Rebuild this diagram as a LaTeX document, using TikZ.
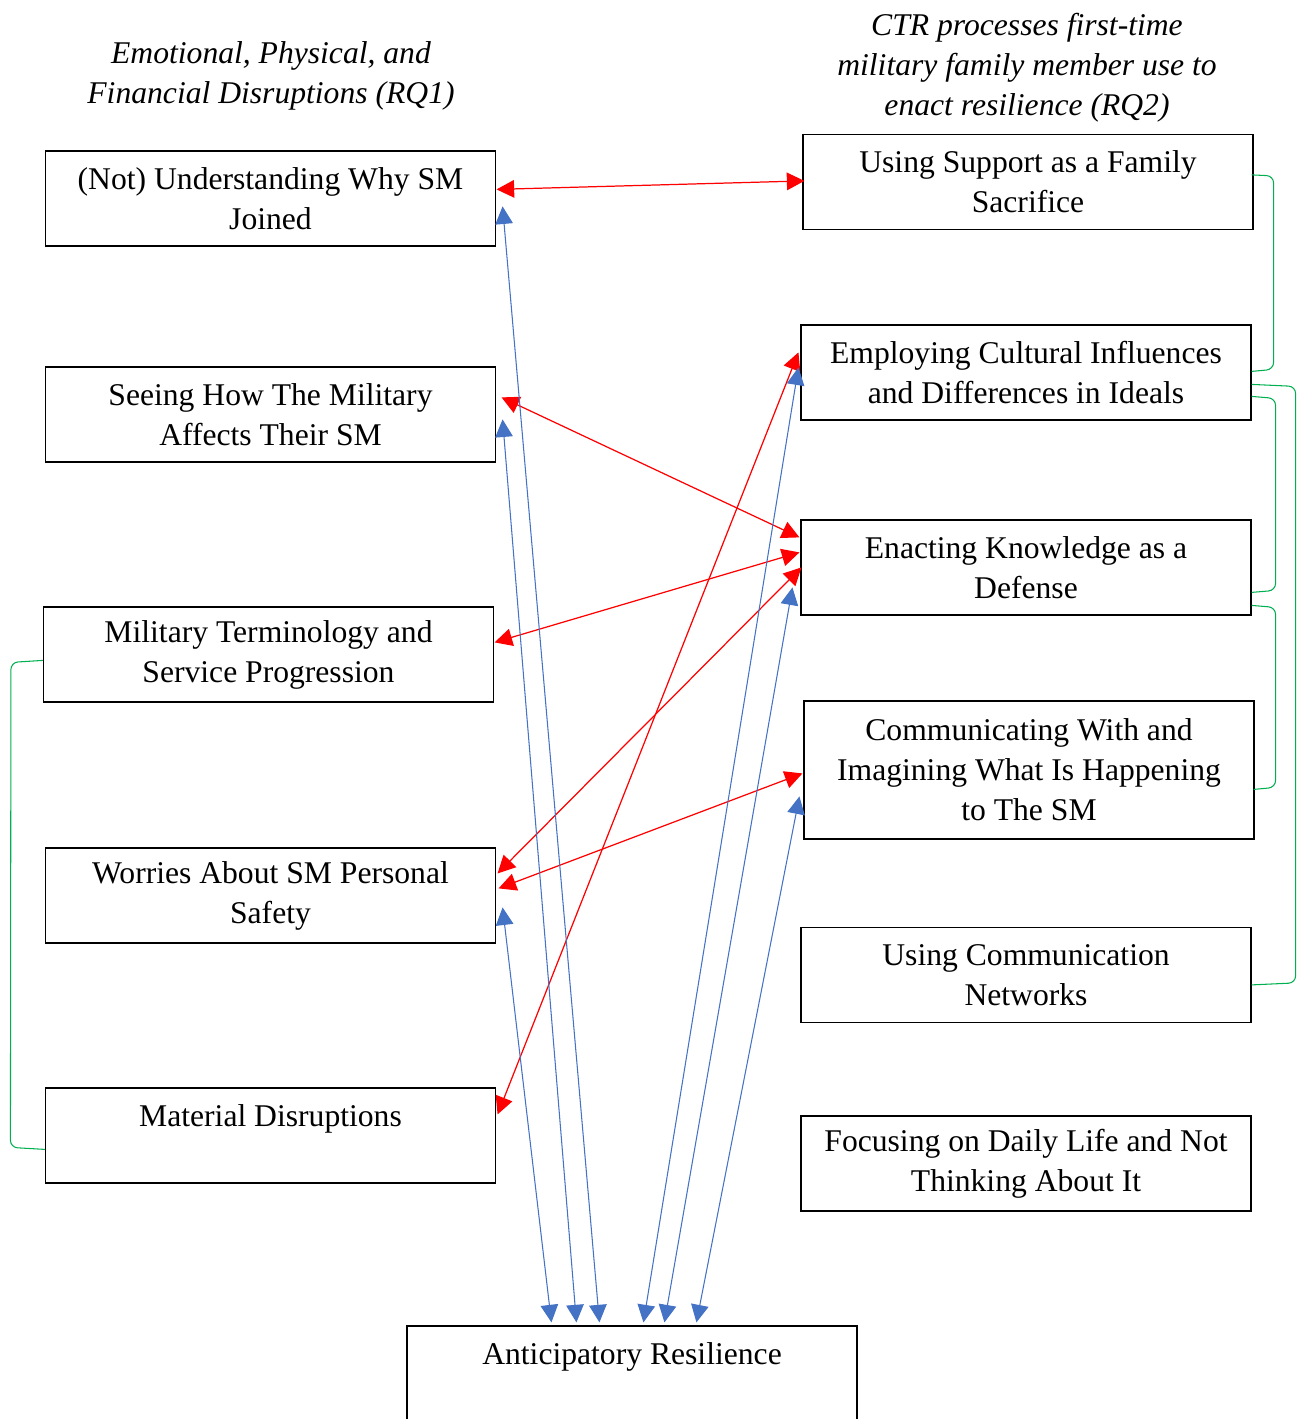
\documentclass[tikz,border=0pt]{standalone}
\usepackage{fontspec}
\setmainfont{Liberation Serif}
\usetikzlibrary{arrows.meta,calc}
\definecolor{linkred}{RGB}{255,0,0}
\definecolor{linkblue}{RGB}{68,114,196}
\definecolor{groupgreen}{RGB}{0,176,80}

\begin{document}
\begin{tikzpicture}[x=0.02cm,y=-0.02cm]
      \tikzstyle{STY1} = [draw, rectangle, line width=0.7pt, minimum width=9cm, minimum height=1.9cm, inner sep=0pt, align=center, font=\fontsize{18}{22.8}\selectfont, execute at begin node={\rule{0pt}{20pt}}]
      \tikzstyle{STY2} = [linkred, line width=0.7pt, {Triangle[length=10pt,width=10pt]}-{Triangle[length=10pt,width=10pt]}]
      \tikzstyle{STY3} = [linkblue, line width=0.6pt, {Triangle[length=10pt,width=10pt]}-{Triangle[length=10pt,width=10pt]}]
      \tikzstyle{STY4} = [groupgreen, line width=0.6pt, rounded corners=4pt]
      \tikzstyle{STY5} = [align=center, font=\itshape\fontsize{18}{22.8}\selectfont]

      \useasboundingbox (0,0) rectangle (1296,1419);

      %%%%% HEADERS

      \node[STY5](h1) at (271,76) {Emotional, Physical, and\\Financial Disruptions (RQ1)};
      \node[STY5](h2) at (1027,68) {CTR processes first-time\\military family member use to\\enact resilience (RQ2)};

      %%%%% VERTEX

      \node[STY1](d1) at (270.5,198.5) {(Not) Understanding Why SM\\Joined};
      \node[STY1](d2) at (270.5,414.5) {Seeing How The Military\\Affects Their SM};
      \node[STY1](d3) at (268.5,654.5) {Military Terminology and\\Service Progression};
      \node[STY1](d4) at (270.5,895.5) {Worries About SM Personal\\Safety};
      \node[STY1](d5) at (270.5,1135.5) {Material Disruptions\\\mbox{}};

      \node[STY1](p1) at (1028,182) {Using Support as a Family\\Sacrifice};
      \node[STY1](p2) at (1026,372.5) {Employing Cultural Influences\\and Differences in Ideals};
      \node[STY1](p3) at (1026,567.5) {Enacting Knowledge as a\\Defense};
      \node[STY1, minimum height=2.76cm](p4) at (1029,770) {Communicating With and\\Imagining What Is Happening\\to The SM};
      \node[STY1](p5) at (1026,975) {Using Communication\\Networks};
      \node[STY1](p6) at (1026,1163.5) {Focusing on Daily Life and Not\\Thinking About It};

      \node[STY1](r) at (632,1373.5) {Anticipatory Resilience\\\mbox{}};

      %%%%% EDGES
      \draw[STY2] ($(d1.north east)+(0.5,39)$) -- ($(p1.north west)+(2,47)$);
      \draw[STY2] ($(d2.north east)+(5.5,31)$) -- ($(p3.north west)+(-1,18)$);
      \draw[STY2] ($(d3.north east)+(0.5,36)$) -- ($(p3.north west)+(-1,33)$);
      \draw[STY2] ($(d4.north east)+(1.5,26)$) -- ($(p3.north west)+(1,48)$);
      \draw[STY2] ($(d4.north east)+(2.5,41)$) -- ($(p4.north west)+(-1,73)$);
      \draw[STY2] ($(d5.north east)+(1.5,27)$) -- ($(p2.north west)+(-2,28)$);

      \draw[STY3] ($(d1.north east)+(6.5,56)$) -- ($(r.north west)+(193,-3)$);
      \draw[STY3] ($(d2.north east)+(6.5,53)$) -- ($(r.north west)+(170,-3)$);
      \draw[STY3] ($(d4.north east)+(6.5,60)$) -- ($(r.north west)+(145,-3)$);
      \draw[STY3] ($(p2.north west)+(-2,43)$) -- ($(r.north west)+(237,-3)$);
      \draw[STY3] ($(p3.north west)+(-8,68)$) -- ($(r.north west)+(258,-3)$);
      \draw[STY3] ($(p4.north west)+(-4,96)$) -- ($(r.north west)+(290,-3)$);

      %%%%% GROUPS
      \draw[STY4] ($(p1.north east)+(-2,41)$) -- ++(22,1) -- ($(p2.north east)+(22,45)$) -- ($(p2.north east)+(0,47)$);
      \draw[STY4] ($(p2.north east)+(0,60)$) -- ++(44,2) -- ($(p5.north east)+(44,56)$) -- ($(p5.north east)+(0,58)$);
      \draw[STY4] ($(p2.north east)+(0,72)$) -- ++(24,2) -- ($(p3.north east)+(24,71)$) -- ($(p3.north east)+(0,73)$);
      \draw[STY4] ($(p3.north east)+(0,86)$) -- ++(24,2) -- ($(p4.north east)+(21,87)$) -- ($(p4.north east)+(-1,89)$);
      \draw[STY4] ($(d3.north west)+(0,54)$) -- ++(-32,2) -- ($(d5.north west)+(-34.5,60)$) -- ($(d5.north west)+(0,62)$);

      %     \node[draw=none] at (0,0) {};
    \end{tikzpicture}
\end{document}
